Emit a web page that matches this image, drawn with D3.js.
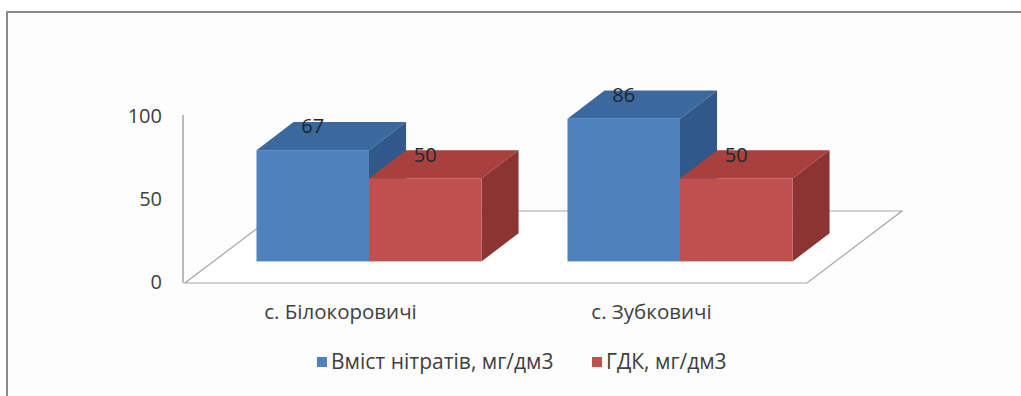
<!DOCTYPE html>
<html>
<head>
<meta charset="utf-8">
<script src="https://cdn.jsdelivr.net/npm/d3@7"></script>
<style>
  html, body { margin: 0; padding: 0; background: #fff; }
  svg { display: block; }
  text { font-family: "Open Sans", sans-serif; fill: #404040; }
</style>
</head>
<body>
<div id="chart"></div>
<script>
// дані з діаграми
const categories = ["с. Білокоровичі", "с. Зубковичі"];
const seriesNames = ["Вміст нітратів, мг/дм3", "ГДК, мг/дм3"];
const nitrates = [67, 86];
const gdk = [50, 50];
const yTicks = [0, 50, 100];

const width = 1021, height = 396;

const svg = d3.select("#chart").append("svg")
  .attr("width", width).attr("height", height);

// рамка
svg.append("rect").attr("x", 7).attr("y", 12).attr("width", width).attr("height", height)
  .attr("fill", "#fdfdfd").attr("stroke", "#8a8a8a").attr("stroke-width", 2);

// 3D геометрія: глибина підлоги та бару
const depth = {dx: 95, dy: -72};
const barT0 = 0.3, barT1 = 0.69;

const x = d3.scaleBand().domain(categories).range([185, 807]).padding(0);
const xs = d3.scaleBand().domain(seriesNames).range([0, x.bandwidth()]).paddingInner(0).paddingOuter(0.382);
const y = d3.scaleLinear().domain([0, 100]).range([283, 117]);
const color = d3.scaleOrdinal().domain(seriesNames).range(["#4f81bd", "#c0504d"]);
const topColor = d3.scaleOrdinal().domain(seriesNames).range(["#3b689d", "#a8413e"]);
const sideColor = d3.scaleOrdinal().domain(seriesNames).range(["#30598a", "#8c3431"]);

// підлога
const x0 = x.range()[0], x1 = x.range()[1], y0 = y(0);
svg.append("polygon")
  .attr("points", [[x0, y0], [x1, y0], [x1 + depth.dx, y0 + depth.dy], [x0 + depth.dx, y0 + depth.dy]].join(" "))
  .attr("fill", "#fff").attr("stroke", "#a6a6a6").attr("stroke-width", 1.2);

// вертикальна вісь
svg.append("line").attr("x1", x0 - 2).attr("x2", x0 - 2).attr("y1", y(0)).attr("y2", y(100) - 2)
  .attr("stroke", "#a6a6a6").attr("stroke-width", 1.5);

svg.selectAll(".ytick").data(yTicks).join("text")
  .attr("x", 162).attr("y", d => y(d) + 1)
  .attr("text-anchor", "end").attr("dominant-baseline", "middle")
  .style("font-size", "20px").text(d => d);

// бари
const bars = [];
categories.forEach((c, i) => {
  bars.push({cat: c, s: seriesNames[0], v: nitrates[i]});
  bars.push({cat: c, s: seriesNames[1], v: gdk[i]});
});

const dxF = depth.dx * barT0, dyF = depth.dy * barT0;
const dxB = depth.dx * (barT1 - barT0), dyB = depth.dy * (barT1 - barT0);

const g = svg.append("g");
bars.forEach(d => {
  const left = x(d.cat) + xs(d.s) + dxF;
  const right = left + xs.bandwidth();
  const base = y(0) + dyF;
  const top = base - (y(0) - y(d.v));
  // верх
  g.append("polygon")
    .attr("points", [[left, top], [right, top], [right + dxB, top + dyB], [left + dxB, top + dyB]].join(" "))
    .attr("fill", topColor(d.s));
  // бік
  g.append("polygon")
    .attr("points", [[right, top], [right + dxB, top + dyB], [right + dxB, base + dyB], [right, base]].join(" "))
    .attr("fill", sideColor(d.s));
  // фронт
  g.append("rect")
    .attr("x", left).attr("y", top).attr("width", right - left).attr("height", base - top)
    .attr("fill", color(d.s));
  d.labelX = (left + right) / 2;
  d.labelY = top + dyB + 6;
});

g.selectAll(".vlabel").data(bars).join("text")
  .attr("x", d => d.labelX).attr("y", d => d.labelY)
  .attr("text-anchor", "middle").attr("dominant-baseline", "middle")
  .style("font-size", "20px").style("fill", "#1e2630").text(d => d.v);

// підписи категорій
svg.selectAll(".xlabel").data(categories).join("text")
  .attr("x", d => x(d) + x.bandwidth() / 2).attr("y", 314)
  .attr("text-anchor", "middle").attr("dominant-baseline", "middle")
  .style("font-size", "20.5px").text(d => d);

// легенда
const legendX = [317, 592];
const legend = svg.selectAll(".legend").data(seriesNames).join("g")
  .attr("transform", (d, i) => `translate(${legendX[i]},357)`);
legend.append("rect").attr("width", 10).attr("height", 10).attr("fill", d => color(d));
legend.append("text").attr("x", 14).attr("y", 6)
  .attr("dominant-baseline", "middle").style("font-size", "21px").text(d => d);
</script>
</body>
</html>
